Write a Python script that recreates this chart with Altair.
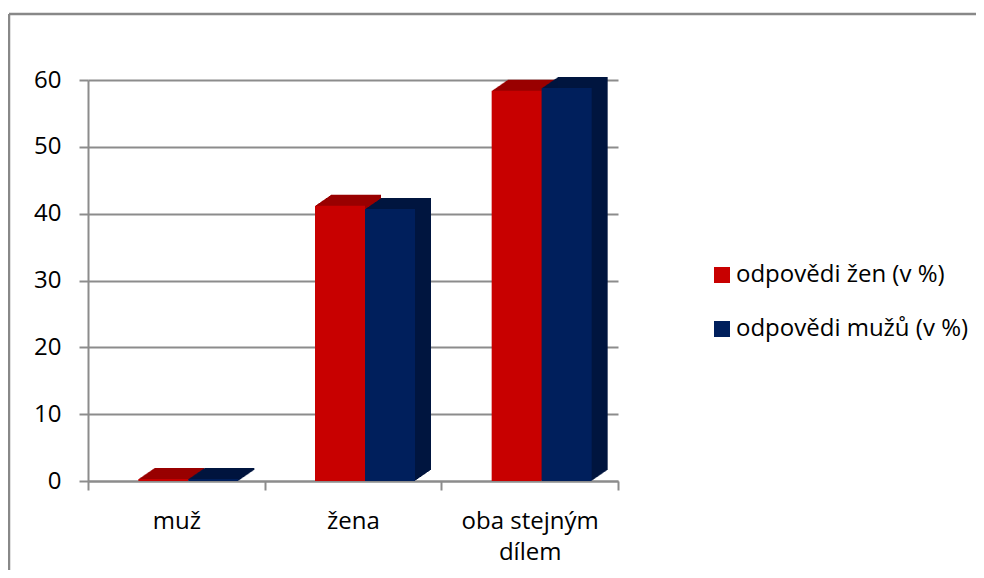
import altair as alt
import pandas as pd

categories = ["muž", "žena", "oba stejným dílem"]
series = ["odpovědi žen (v %)", "odpovědi mužů (v %)"]
zen = [0.3, 41.2, 58.4]
muzu = [0.3, 40.7, 58.8]

front_colors = ["#C80000", "#001F5C"]
side_colors = ["#990000", "#00153F"]

rows = []
for c, a, b in zip(categories, zen, muzu):
    rows.append({"kategorie": c, "serie": series[0], "hodnota": a})
    rows.append({"kategorie": c, "serie": series[1], "hodnota": b})
df = pd.DataFrame(rows)

FONT = "Open Sans"
BAR_W = 50
SHIFT = 12
DEPTH_X = 16
DEPTH_Y = 11
STEPS = 16
GRAY = "#8C8C8C"

x_enc = alt.X(
    "kategorie:N",
    sort=categories,
    scale=alt.Scale(paddingInner=0, paddingOuter=0),
    axis=alt.Axis(
        title=None,
        labelAngle=0,
        tickBand="extent",
        labelPadding=19,
        tickSize=9,
        labelFontSize=24,
        labelColor="#000000",
        labelExpr="datum.label == 'oba stejným dílem' ? ['oba stejným', 'dílem'] : datum.label",
        labelLineHeight=31,
        labelBaseline="top",
        domainColor=GRAY,
        tickColor=GRAY,
        domainWidth=2,
        tickWidth=2,
    ),
)
y_enc = alt.Y(
    "hodnota:Q",
    scale=alt.Scale(domain=[0, 60]),
    axis=alt.Axis(
        title=None,
        values=[0, 10, 20, 30, 40, 50, 60],
        labelFontSize=24,
        labelColor="#000000",
        labelPadding=18,
        tickSize=9,
        grid=True,
        gridColor=GRAY,
        gridWidth=2,
        domainColor=GRAY,
        tickColor=GRAY,
        domainWidth=2,
        tickWidth=2,
    ),
)

legend = alt.Legend(
    title=None,
    orient="none",
    legendX=622,
    legendY=183,
    symbolType="square",
    symbolSize=256,
    symbolStrokeWidth=0,
    labelFontSize=24,
    labelColor="#000000",
    labelFont=FONT,
    labelLimit=0,
    rowPadding=30,
    labelOffset=2,
    symbolOffset=0,
)

base = alt.Chart(df)
layers = []

# outer chart frame (top and left edges, as in the reference)
frame_df = pd.DataFrame({"f": [0]})
layers.append(
    alt.Chart(frame_df).mark_rule(color="#888888", strokeWidth=2.5).encode(
        x=alt.value(-79), x2=alt.value(900), y=alt.value(-66)
    )
)
layers.append(
    alt.Chart(frame_df).mark_rule(color="#888888", strokeWidth=2.5).encode(
        x=alt.value(-79), y=alt.value(-66), y2=alt.value(520)
    )
)

# depth (side/top faces) drawn first as stacked thin offsets, then the front faces
for i, s in enumerate(series):
    shift = (-BAR_W / 2 if i == 0 else BAR_W / 2) + SHIFT
    for k in range(1, STEPS + 1):
        layers.append(
            base.transform_filter(alt.datum.serie == s)
            .mark_bar(
                width=BAR_W,
                xOffset=shift + DEPTH_X * k / STEPS,
                yOffset=-DEPTH_Y * k / STEPS,
                color=side_colors[i],
            )
            .encode(x=x_enc, y=y_enc)
        )
for i, s in enumerate(series):
    shift = (-BAR_W / 2 if i == 0 else BAR_W / 2) + SHIFT
    layers.append(
        base.transform_filter(alt.datum.serie == s)
        .mark_bar(width=BAR_W, xOffset=shift)
        .encode(
            x=x_enc,
            y=y_enc,
            color=alt.Color(
                "serie:N",
                scale=alt.Scale(domain=series, range=front_colors),
                legend=legend if i == 0 else None,
            ),
        )
    )

chart = (
    alt.layer(*layers)
    .properties(
        width=530,
        height=401,
        autosize=alt.AutoSizeParams(type="none"),
        padding={"left": 80, "top": 72, "right": 358, "bottom": 89},
        background="#FFFFFF",
    )
    .configure_view(stroke=None)
    .configure_axis(labelFont=FONT)
    .configure_legend(labelFont=FONT)
)

chart.save("out.html", embed_options={"renderer": "svg", "actions": False})
